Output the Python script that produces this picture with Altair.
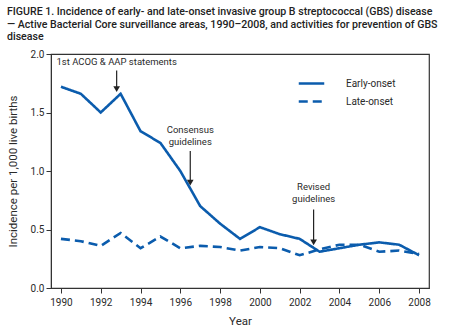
import altair as alt
import pandas as pd

years = list(range(1990, 2009))
early = [1.72, 1.66, 1.50, 1.66, 1.34, 1.24, 1.00, 0.70, 0.55, 0.42, 0.52, 0.46, 0.42, 0.31, 0.34, 0.37, 0.39, 0.37, 0.28]
late = [0.42, 0.40, 0.36, 0.47, 0.34, 0.44, 0.34, 0.36, 0.35, 0.32, 0.35, 0.34, 0.28, 0.33, 0.37, 0.37, 0.31, 0.32, 0.29]
series_names = ["Early-onset", "Late-onset"]

ann_text = [["1st ACOG & AAP statements"], ["Consensus", "guidelines"], ["Revised", "guidelines"]]
ann_x = [1992.8, 1996.5, 2002.7]
ann_text_y = [1.93, 1.35, 0.86]
arrow_top = [1.86, 1.17, 0.67]
arrow_bot = [1.70, 0.90, 0.39]

rows = []
for i, yr in enumerate(years):
    rows.append({"year": yr, "value": early[i], "series": series_names[0]})
    rows.append({"year": yr, "value": late[i], "series": series_names[1]})
df = pd.DataFrame(rows)

ann = pd.DataFrame({"x": ann_x, "ty": ann_text_y, "label": ann_text, "y1": arrow_top, "y2": arrow_bot})

BLUE = "#0b5cad"
FONT = "Roboto"
TXT = "#2a2a2a"

xscale = alt.Scale(domain=[1989.5, 2008.5], nice=False, zero=False)
yscale = alt.Scale(domain=[0, 2], nice=False)

lines = alt.Chart(df).mark_line(strokeWidth=2.6, color=BLUE).encode(
    x=alt.X("year:Q", scale=xscale, title="Year",
            axis=alt.Axis(values=years, labelExpr="datum.value % 2 == 0 ? format(datum.value, 'd') : ''",
                          grid=False, tickSize=5, labelPadding=4, titlePadding=8)),
    y=alt.Y("value:Q", scale=yscale, title="Incidence per 1,000 live births",
            axis=alt.Axis(values=[0, 0.5, 1, 1.5, 2], format=".1f", grid=False, tickSize=5, titlePadding=12)),
    strokeDash=alt.StrokeDash("series:N",
                              scale=alt.Scale(domain=series_names, range=[[1, 0], [9, 5]]),
                              legend=alt.Legend(title=None, orient="none", legendX=254, legendY=23,
                                                symbolType="M-2.5,0H2.5", symbolSize=104, symbolStrokeWidth=2.6,
                                                symbolStrokeColor=BLUE, labelFontSize=10, labelFont=FONT,
                                                rowPadding=6, labelOffset=28, labelColor=TXT)),
)

texts = alt.Chart(ann).mark_text(fontSize=9.5, font=FONT, color=TXT, baseline="middle", lineHeight=12).encode(
    x="x:Q", y="ty:Q", text="label"
)
rules = alt.Chart(ann).mark_rule(color="#222", strokeWidth=1.2).encode(x="x:Q", y="y1:Q", y2="y2:Q")
heads = alt.Chart(ann).mark_point(shape="triangle-down", filled=True, color="#222", size=45, opacity=1).encode(
    x="x:Q", y="y2:Q"
)

chart = alt.layer(lines, rules, heads, texts).properties(
    width=378, height=234,
    autosize=alt.AutoSizeParams(type="none"),
    padding={"left": 51, "top": 54, "right": 21, "bottom": 48},
    title=alt.TitleParams(
        ["FIGURE 1. Incidence of early- and late-onset invasive group B streptococcal (GBS) disease",
         "\u2014 Active Bacterial Core surveillance areas, 1990\u20132008, and activities for prevention of GBS",
         "disease"],
        anchor="start", frame="group", dx=-44, offset=6, fontSize=10.6, font=FONT, fontWeight=500,
        color="#222", lineHeight=12.5),
).configure_view(stroke="#333", strokeWidth=1.2).configure_axis(
    domainColor="#333", tickColor="#333", labelColor=TXT, titleColor=TXT,
    labelFont=FONT, titleFont=FONT, labelFontSize=10, titleFontSize=11.5, titleFontWeight="normal",
)

chart.save("out.html", embed_options={"renderer": "svg", "actions": False})
